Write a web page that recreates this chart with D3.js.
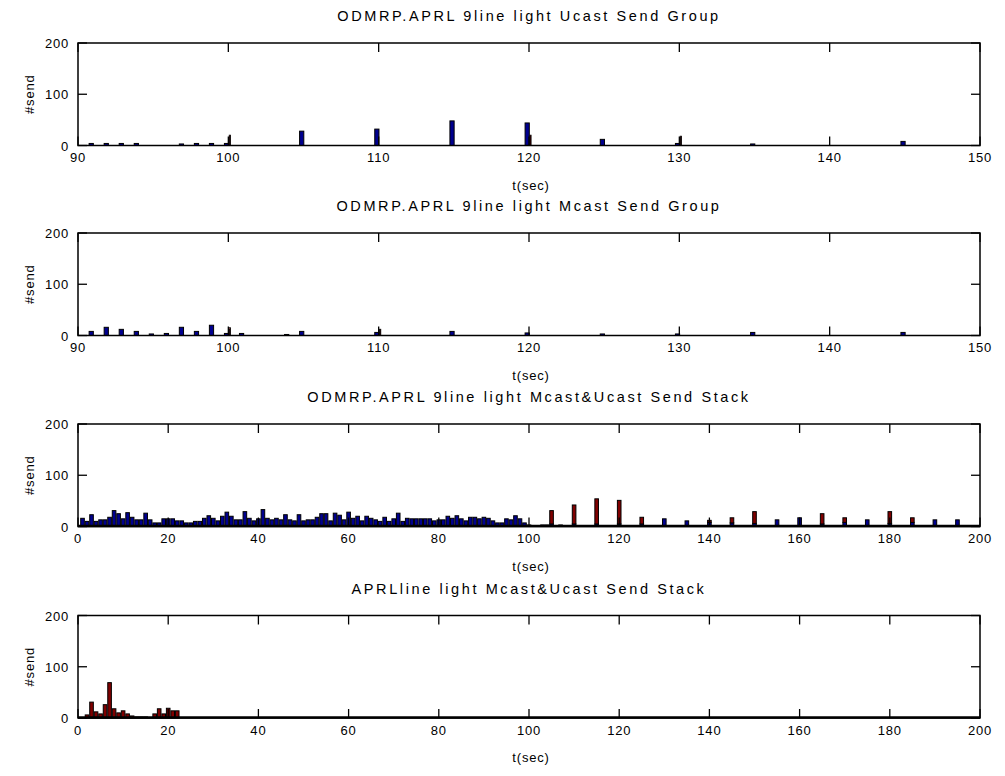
<!DOCTYPE html>
<html><head><meta charset="utf-8">
<script src="https://cdn.jsdelivr.net/npm/d3@7"></script>
<style>
body{margin:0;background:#fff}
svg{display:block}
text{font-family:"Liberation Sans",Arial,Helvetica,sans-serif;fill:#000}
</style>
</head><body>
<svg id="c" width="1005" height="776"></svg>
<script>
// ---------------- data ----------------
const titles = [
  "ODMRP.APRL 9line light Ucast Send Group",
  "ODMRP.APRL 9line light Mcast Send Group",
  "ODMRP.APRL 9line light Mcast&Ucast Send Stack",
  "APRLline light Mcast&Ucast Send Stack"
];
const xLabel = "t(sec)";
const yLabel = "#send";
const xTicksGroup = [90,100,110,120,130,140,150];
const xTicksStack = [0,20,40,60,80,100,120,140,160,180,200];
const yTicks = [0,100,200];

// Panel 1: Ucast send, grouped (two series)
const p1Times   = [91,92,93,94,97,98,99,100,105,110,115,120,125,130,135,145];
const p1Series1 = [ 4, 4, 4, 4, 3, 4, 4,  4, 28, 32, 48, 44, 12,  4,  3,  8];
const p1Series2 = [ 0, 0, 0, 0, 0, 0, 0, 20,  0,  0,  0, 20,  0, 18,  0,  0];

// Panel 2: Mcast send, grouped (two series)
const p2Times   = [91,92,93,94,95,96,97,98,99,100,101,104,105,110,115,120,125,130,135,145];
const p2Series1 = [ 8,16,12, 8, 3, 4,16, 8,20,  4,  4,  2,  8,  6,  8,  5,  3,  3,  6,  6];
const p2Series2 = [ 0, 0, 0, 0, 0, 0, 0, 0, 0, 15,  0,  0,  0, 12,  0,  0,  0,  0,  0,  0];

// Panel 3: Mcast (bottom) & Ucast (top) stacked, one bar per second
const p3McastTimes = [1,2,3,4,5,6,7,8,9,10,11,12,13,14,15,16,17,18,19,20,21,22,23,24,25,26,27,28,29,30,
  31,32,33,34,35,36,37,38,39,40,41,42,43,44,45,46,47,48,49,50,51,52,53,54,55,56,57,58,59,60,
  61,62,63,64,65,66,67,68,69,70,71,72,73,74,75,76,77,78,79,80,81,82,83,84,85,86,87,88,89,90,
  91,92,93,94,95,96,97,98,99,100,103,104,105,107,110,115,120,125,130,135,140,145,150,155,160,165,170,175,180,185,190,195];
const p3Mcast = [16,10,23,10,13,13,18,31,25,15,27,18,13,13,26,13,7,7,15,15,15,11,11,7,7,10,10,16,21,16,
  11,20,28,20,13,13,29,16,11,15,33,16,13,16,13,23,13,11,23,11,13,13,18,25,25,11,26,22,13,28,
  16,20,11,20,16,13,10,18,10,15,26,10,16,15,15,15,15,15,11,13,13,20,16,21,15,11,18,18,15,18,
  16,11,7,7,15,13,21,15,7,3,3,3,5,3,5,5,5,5,15,11,8,7,6,13,17,5,8,13,6,8,13,13];
const p3UcastTimes = [105,110,115,120,125,140,145,150,165,170,180,185];
const p3Ucast      = [ 26, 37, 49, 46, 13,  4, 10, 23, 20,  9, 23,  9];

// Panel 4: APRL stacked, one bar per second (only non-zero seconds listed)
const p4UcastTimes = [2,3,4,5,6,7,8,9,10,11,12,13,14,15,16,17,18,19,20,21,22];
const p4Ucast      = [6,31,12,8,26,69,18,10,14,8,4,2,2,2,1,8,18,8,19,14,14];

// ---------------- layout ----------------
const W = 1005, H = 776;
const left = 78, right = 980;
const tops = [43, 233, 424, 615.5];
const ph = 102.5;
const blue = "#00008f", red = "#800000";

const svg = d3.select("#c");
svg.append("rect").attr("width", W).attr("height", H).attr("fill", "#fff");

function panel(i, xDomain, xTicks) {
  const top = tops[i], bottom = top + ph;
  const x = d3.scaleLinear().domain(xDomain).range([left, right]);
  const y = d3.scaleLinear().domain([0, 200]).range([bottom, top]);
  const g = svg.append("g");
  return {g, x, y, top, bottom, xTicks, i};
}

function frame(P, thickBase) {
  const {g, x, y, top, bottom, xTicks, i} = P;
  const tl = 9;
  xTicks.forEach(t => {
    g.append("line").attr("x1", x(t)).attr("x2", x(t)).attr("y1", bottom).attr("y2", bottom - tl)
      .attr("stroke", "#000").attr("stroke-width", 1.3);
    g.append("line").attr("x1", x(t)).attr("x2", x(t)).attr("y1", top).attr("y2", top + tl)
      .attr("stroke", "#000").attr("stroke-width", 1.3);
    g.append("text").attr("x", x(t)).attr("y", bottom + 16.5).attr("text-anchor", "middle")
      .attr("font-size", 13).attr("letter-spacing", 0.8).text(t);
  });
  yTicks.forEach(v => {
    g.append("line").attr("x1", left).attr("x2", left + tl).attr("y1", y(v)).attr("y2", y(v))
      .attr("stroke", "#000").attr("stroke-width", 1.3);
    g.append("line").attr("x1", right).attr("x2", right - tl).attr("y1", y(v)).attr("y2", y(v))
      .attr("stroke", "#000").attr("stroke-width", 1.3);
    g.append("text").attr("x", left - 9).attr("y", y(v) + 5).attr("text-anchor", "end")
      .attr("font-size", 13).attr("letter-spacing", 0.8).text(v);
  });
  if (thickBase) {
    g.append("line").attr("x1", left).attr("x2", right).attr("y1", bottom - 0.5).attr("y2", bottom - 0.5)
      .attr("stroke", "#000").attr("stroke-width", 2.5);
  }
  g.append("rect").attr("x", left).attr("y", top).attr("width", right - left).attr("height", ph)
    .attr("fill", "none").attr("stroke", "#000").attr("stroke-width", 1.5);
  g.append("text").attr("x", (left + right) / 2).attr("y", top - 22).attr("text-anchor", "middle")
    .attr("font-size", 14.5).attr("letter-spacing", 2.6).text(titles[i]);
  g.append("text").attr("x", (left + right) / 2 + 2).attr("y", bottom + 44).attr("text-anchor", "middle")
    .attr("font-size", 13).attr("letter-spacing", 0.8).text(xLabel);
  g.append("text").attr("transform", `translate(${left - 44},${(top + bottom) / 2}) rotate(-90)`)
    .attr("text-anchor", "middle").attr("font-size", 13).attr("letter-spacing", 0.8).text(yLabel);
}

function grouped(P, times, s1, s2) {
  const {g, x, y} = P;
  const data = [];
  times.forEach((t, k) => {
    if (s1[k] > 0) data.push({t: t - 0.12, w: 0.28, v: s1[k], c: blue});
    if (s2[k] > 0) data.push({t: t + 0.1, w: 0.07, v: s2[k], c: red});
  });
  g.selectAll(null).data(data).enter().append("rect")
    .attr("x", d => x(d.t - d.w / 2))
    .attr("width", d => x(d.t + d.w / 2) - x(d.t - d.w / 2))
    .attr("y", d => y(d.v))
    .attr("height", d => y(0) - y(d.v))
    .attr("fill", d => d.c).attr("stroke", "#000").attr("stroke-width", 1);
}

function stacked(P, bTimes, bVals, tTimes, tVals) {
  const {g, x, y} = P;
  const bw = 0.8;
  const bmap = new Map(bTimes.map((t, k) => [t, bVals[k]]));
  const data = [];
  bTimes.forEach((t, k) => { if (bVals[k] > 0) data.push({t, y0: 0, y1: bVals[k], c: blue}); });
  tTimes.forEach((t, k) => {
    const b = bmap.get(t) || 0;
    if (tVals[k] > 0) data.push({t, y0: b, y1: b + tVals[k], c: red});
  });
  g.selectAll(null).data(data).enter().append("rect")
    .attr("x", d => x(d.t - bw / 2))
    .attr("width", d => x(d.t + bw / 2) - x(d.t - bw / 2))
    .attr("y", d => y(d.y1))
    .attr("height", d => y(d.y0) - y(d.y1))
    .attr("fill", d => d.c).attr("stroke", "#000").attr("stroke-width", 1);
}

const P1 = panel(0, [90, 150], xTicksGroup);
grouped(P1, p1Times, p1Series1, p1Series2);
frame(P1, false);

const P2 = panel(1, [90, 150], xTicksGroup);
grouped(P2, p2Times, p2Series1, p2Series2);
frame(P2, false);

const P3 = panel(2, [0, 200], xTicksStack);
stacked(P3, p3McastTimes, p3Mcast, p3UcastTimes, p3Ucast);
frame(P3, true);

const P4 = panel(3, [0, 200], xTicksStack);
stacked(P4, [], [], p4UcastTimes, p4Ucast);
frame(P4, true);
</script>
</body></html>
